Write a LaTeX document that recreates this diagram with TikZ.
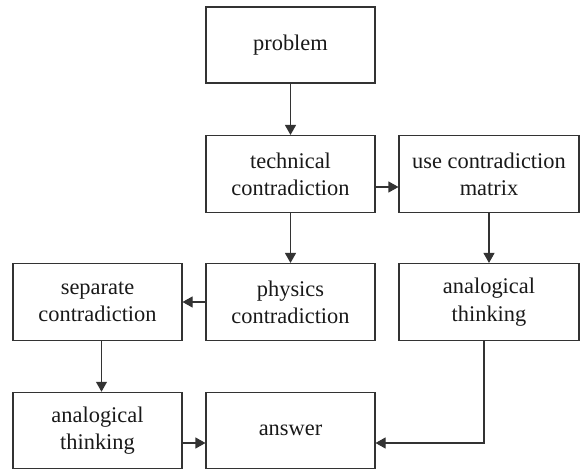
\documentclass[tikz,border=0pt]{standalone}
\usepackage{fontspec}
\setmainfont{Liberation Serif}
\usetikzlibrary{arrows.meta}
\begin{document}
\begin{tikzpicture}[x=1bp,y=-1bp,
  box/.style={draw=black!80,line width=1.1bp,rectangle,inner sep=0pt,align=center,
    font=\fontsize{22.4bp}{27.3bp}\selectfont,text=black!90},
  narrowbox/.style={box,minimum width=169bp,minimum height=77bp},
  widebox/.style={box,minimum width=180bp,minimum height=77bp},
  arr/.style={draw=black!80,line width=1.1bp,-{Triangle[length=10bp,width=11bp]}}]
\useasboundingbox (0,0) rectangle (582,470);
\node[narrowbox,minimum height=76bp] (prob) at (290.5,45) {problem};
\node[narrowbox] (tech) at (290.5,174) {technical\\contradiction};
\node[widebox] (usem) at (489,174) {use contradiction\\matrix};
\node[narrowbox] (phys) at (290.5,302) {physics\\contradiction};
\node[narrowbox] (sep) at (97.5,302) {separate\\contradiction};
\node[widebox] (anR) at (489,302) {analogical\\thinking};
\node[narrowbox,minimum height=76.4bp] (anL) at (97.5,430.5) {analogical\\thinking};
\node[narrowbox,minimum height=76.4bp] (ans) at (290.5,430.5) {answer};
\coordinate (c1) at (0,187);
\coordinate (c2) at (101.5,0);
\coordinate (c3) at (0,443);
\coordinate (c4) at (484,0);
\draw[arr] (prob.south) -- (tech.north);
\draw[arr] (tech.east |- c1) -- (usem.west |- c1);
\draw[arr] (tech.south) -- (phys.north);
\draw[arr] (usem.south) -- (anR.north);
\draw[arr] (phys.west) -- (sep.east);
\draw[arr] (sep.south -| c2) -- (anL.north -| c2);
\draw[arr] (anL.east |- c3) -- (ans.west |- c3);
\draw[arr] (anR.south -| c4) -- (c4 |- c3) -- (ans.east |- c3);
\end{tikzpicture}
\end{document}
